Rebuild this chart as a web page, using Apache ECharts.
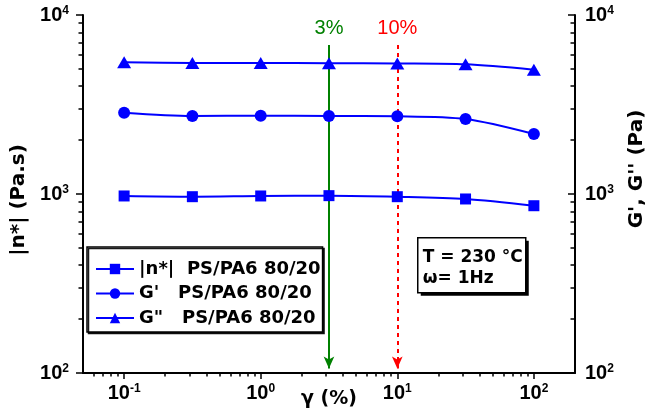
<!DOCTYPE html>
<html><head><meta charset="utf-8">
<script src="https://cdn.jsdelivr.net/npm/echarts@6/dist/echarts.min.js"></script>
<style>html,body{margin:0;padding:0;background:#fff}#c{width:649px;height:420px}</style>
</head><body><div id="c"></div>
<script>
// ---- data ----
const strain = [0.1, 0.316, 1, 3.16, 10, 31.6, 100];
const etaStar = [975, 966, 975, 979, 966, 938, 860];
const gPrime = [2846, 2728, 2738, 2728, 2718, 2624, 2164];
const gDouble = [5450, 5400, 5400, 5380, 5360, 5300, 4950];
const seriesNames = ['|n*|  PS/PA6 80/20', "G'   PS/PA6 80/20", 'G"   PS/PA6 80/20'];
const xMajorTicks = [0.1, 1, 10, 100];
const xMinorTicks = [0.06, 0.07, 0.08, 0.09, 0.2, 0.3, 0.4, 0.5, 0.6, 0.7, 0.8, 0.9,
  2, 3, 4, 5, 6, 7, 8, 9, 20, 30, 40, 50, 60, 70, 80, 90];
const yMajorTicks = [100, 1000, 10000];
const yMinorTicks = [200, 300, 400, 500, 600, 700, 800, 900, 2000, 3000, 4000, 5000, 6000, 7000, 8000, 9000];
const strainMarks = [3.16, 10];
const strainMarkLabels = ['3%', '10%'];
const strainMarkColors = ['#008000', '#ff0000'];
const annotationLines = ['T = 230 °C', 'ω= 1Hz'];

// ---- chart ----
const BLACK = '#000';
const BLUE = '#0000ff';
const labelFont = 'Liberation Sans';
const titleFont = 'DejaVu Sans';
function powLabel(v) {
  const e = Math.round(Math.log10(v));
  return '{b|10}{s|' + e + '}';
}
const powRich = {
  b: { fontFamily: labelFont, fontWeight: 'bold', fontSize: 20, color: BLACK },
  s: { fontFamily: labelFont, fontWeight: 'bold', fontSize: 12, color: BLACK, padding: [0, 0, 9, 0] }
};
const axisLineStyle = { color: BLACK, width: 2 };

function yAxisMajor(pos) {
  const right = pos === 'right';
  return {
    type: 'log', logBase: 10, min: 100, max: 10000, position: pos,
    axisLine: { show: true, lineStyle: axisLineStyle },
    axisTick: { show: true, inside: right, length: 7, customValues: yMajorTicks, lineStyle: { color: BLACK, width: 1.5 } },
    axisLabel: { customValues: yMajorTicks, formatter: powLabel, rich: powRich, margin: right ? 10 : 14 },
    splitLine: { show: false },
    name: right ? "G', G'' (Pa)" : '|n*| (Pa.s)',
    nameLocation: 'middle', nameRotate: 90, nameGap: right ? 52 : 54, nameMoveOverlap: false,
    nameTextStyle: right
      ? { fontFamily: titleFont, fontWeight: 'bold', fontSize: 20, color: BLACK, padding: [0, 0, 0, 50] }
      : { fontFamily: titleFont, fontWeight: 'bold', fontSize: 20, color: BLACK, padding: [0, 12, 0, 0] }
  };
}
function yAxisMinor(pos) {
  return {
    type: 'log', logBase: 10, min: 100, max: 10000, position: pos,
    axisLine: { show: false },
    axisTick: { show: true, inside: pos === 'right', length: 4.5, customValues: yMinorTicks, lineStyle: { color: BLACK, width: 1.5 } },
    axisLabel: { show: false },
    splitLine: { show: false }
  };
}

const series = [etaStar, gPrime, gDouble].map((vals, i) => ({
  type: 'line',
  name: seriesNames[i],
  xAxisIndex: 0,
  yAxisIndex: i === 0 ? 0 : 1,
  data: strain.map((x, j) => [x, vals[j]]),
  smooth: 0.3,
  symbol: ['rect', 'circle', 'triangle'][i],
  symbolSize: [11, 12, [14, 12]][i],
  color: BLUE,
  lineStyle: { color: BLUE, width: 2 },
  itemStyle: { color: BLUE },
  z: 5
}));

series[0].markLine = {
  silent: true,
  animation: false,
  symbol: ['none', 'arrow'],
  symbolSize: [8, 12],
  data: strainMarks.map((x, i) => [
    {
      coord: [x, 6800],
      lineStyle: { color: strainMarkColors[i], width: 2, type: i === 0 ? 'solid' : [4, 4] },
      itemStyle: { color: strainMarkColors[i] },
      label: {
        show: true, position: 'start', distance: 6, formatter: strainMarkLabels[i],
        color: strainMarkColors[i], fontFamily: labelFont, fontSize: 20
      }
    },
    { coord: [x, 106] }
  ])
};

const option = {
  animation: false,
  backgroundColor: '#fff',
  grid: { left: 83, right: 74, top: 15, bottom: 47, containLabel: false, outerBoundsMode: 'none' },
  xAxis: [
    {
      type: 'log', logBase: 10, min: 0.05, max: 200, position: 'bottom',
      axisLine: { show: true, lineStyle: axisLineStyle },
      axisTick: { show: true, length: 6, customValues: xMajorTicks, lineStyle: { color: BLACK, width: 1.5 } },
      axisLabel: { customValues: xMajorTicks, formatter: powLabel, rich: powRich, margin: 10 },
      splitLine: { show: false },
      name: 'γ (%)', nameLocation: 'middle', nameGap: 17, nameMoveOverlap: false,
      nameTextStyle: { fontFamily: titleFont, fontWeight: 'bold', fontSize: 19, color: BLACK }
    },
    {
      type: 'log', logBase: 10, min: 0.05, max: 200, position: 'bottom',
      axisLine: { show: false },
      axisTick: { show: true, length: 3.5, customValues: xMinorTicks, lineStyle: { color: BLACK, width: 1.5 } },
      axisLabel: { show: false },
      splitLine: { show: false }
    }
  ],
  yAxis: [yAxisMajor('left'), yAxisMajor('right'), yAxisMinor('left'), yAxisMinor('right')],
  legend: {
    orient: 'vertical', left: 87, top: 247,
    padding: [13, 2, 5, 8], itemGap: 6.5, itemWidth: 38, itemHeight: 13,
    backgroundColor: '#fff', borderColor: BLACK, borderWidth: 1.5, borderRadius: 0,
    shadowColor: 'rgba(0,0,0,0.9)', shadowOffsetX: 1.5, shadowOffsetY: 1.5, shadowBlur: 0,
    selectedMode: false,
    textStyle: { fontFamily: titleFont, fontWeight: 'bold', fontSize: 18, color: BLACK },
    data: seriesNames
  },
  graphic: [{
    type: 'group', left: 417, top: 237, z: 20,
    children: [
      { type: 'rect', shape: { x: 3, y: 3, width: 108, height: 55 }, style: { fill: BLACK } },
      { type: 'rect', shape: { x: 0, y: 0, width: 108, height: 55 },
        style: { fill: '#fff', stroke: BLACK, lineWidth: 1.5 } },
      { type: 'text', x: 5, y: 20, style: { text: annotationLines[0], font: 'bold 17px "DejaVu Sans"', fill: BLACK, verticalAlign: 'middle' } },
      { type: 'text', x: 5, y: 41, style: { text: annotationLines[1], font: 'bold 17px "DejaVu Sans"', fill: BLACK, verticalAlign: 'middle' } }
    ]
  }],
  series: series
};
const chart = echarts.init(document.getElementById('c'), null, { renderer: 'canvas' });
chart.setOption(option);
</script>
</body></html>
